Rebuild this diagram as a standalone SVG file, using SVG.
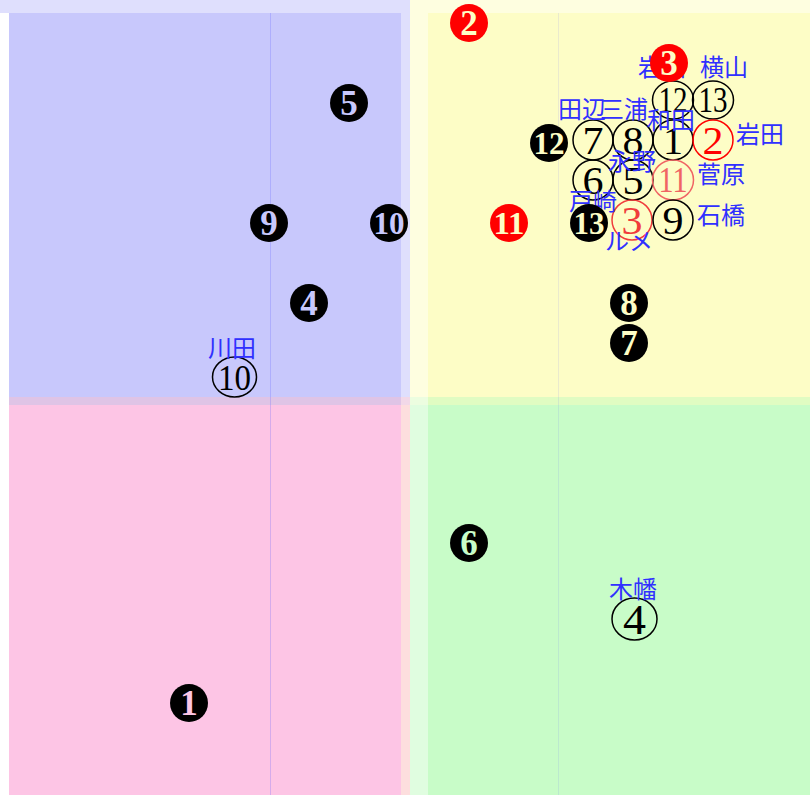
<svg xmlns="http://www.w3.org/2000/svg" width="810" height="795" viewBox="0 0 810 795">
<style>
.dot{stroke:none}
.dd{font-family:"Liberation Serif","DejaVu Serif",serif;font-weight:bold;font-size:35px;text-anchor:middle}
.dd2{font-family:"Liberation Serif","DejaVu Serif",serif;font-weight:bold;font-size:31px;text-anchor:middle}
.oc{fill:none;stroke-width:1.5}
.od{font-family:"Liberation Serif","DejaVu Serif",serif;font-size:40px;text-anchor:middle}
.od2{font-family:"Liberation Serif","DejaVu Serif",serif;font-size:36px;text-anchor:middle}
.lb{font-family:"Noto Sans CJK JP","Noto Sans CJK SC",sans-serif;font-size:24px;fill:#3030ff;text-anchor:middle}
.vl{stroke:#6060ff;stroke-opacity:0.25;stroke-width:1}
</style>
<g id="background">
<rect x="0" y="0" width="810" height="795" fill="#ffffff"/>
<rect x="0" y="0" width="410" height="13" fill="#dfdffd"/>
<rect x="401" y="13" width="9" height="384" fill="#dfdffd"/>
<rect x="9" y="13" width="392" height="384" fill="#c8c8fc"/>
<rect x="410" y="0" width="400" height="397" fill="#fefee0"/>
<rect x="428" y="13" width="382" height="384" fill="#fdfdc6"/>
<rect x="9" y="397" width="392" height="8" fill="#dfc4e6"/>
<rect x="401" y="397" width="9" height="8" fill="#f2d8e8"/>
<rect x="410" y="397" width="18" height="8" fill="#ecfde0"/>
<rect x="428" y="397" width="382" height="8" fill="#e0fcc2"/>
<rect x="9" y="405" width="392" height="390" fill="#fdc5e5"/>
<rect x="401" y="405" width="9" height="390" fill="#fddede"/>
<rect x="410" y="405" width="18" height="390" fill="#e0fde0"/>
<rect x="428" y="405" width="382" height="390" fill="#c8fcc8"/>
<line class="vl" x1="270.5" y1="13" x2="270.5" y2="795"/>
<line class="vl" x1="558.5" y1="13" x2="558.5" y2="795" style="stroke-opacity:0.12"/>
</g>
<g id="connectors"/>
<g id="circled">
<g id="c12"><ellipse class="oc" cx="673" cy="100" rx="20.5" ry="19" stroke="#000"/><text class="od2" x="673" y="112" textLength="29" lengthAdjust="spacingAndGlyphs" fill="#000">12</text></g>
<g id="c13"><ellipse class="oc" cx="713" cy="100" rx="20.5" ry="19" stroke="#000"/><text class="od2" x="713" y="112" textLength="29" lengthAdjust="spacingAndGlyphs" fill="#000">13</text></g>
<g id="c7"><circle class="oc" cx="593" cy="140" r="20" stroke="#000"/><text class="od" x="593" y="153.5" textLength="21" lengthAdjust="spacingAndGlyphs" fill="#000">7</text></g>
<g id="c8"><circle class="oc" cx="633" cy="140" r="20" stroke="#000"/><text class="od" x="633" y="153.5" textLength="21" lengthAdjust="spacingAndGlyphs" fill="#000">8</text></g>
<g id="c1"><circle class="oc" cx="673" cy="140" r="20" stroke="#000"/><text class="od" x="673" y="153.5" fill="#000">1</text></g>
<g id="c2"><circle class="oc" cx="713" cy="140" r="20" stroke="#ff0000"/><text class="od" x="713" y="153.5" fill="#ff0000" textLength="21" lengthAdjust="spacingAndGlyphs">2</text></g>
<g id="c6"><circle class="oc" cx="593" cy="180" r="20" stroke="#000"/><text class="od" x="593" y="193.5" textLength="21" lengthAdjust="spacingAndGlyphs" fill="#000">6</text></g>
<g id="c5"><circle class="oc" cx="633" cy="180" r="20" stroke="#000"/><text class="od" x="633" y="193.5" textLength="21" lengthAdjust="spacingAndGlyphs" fill="#000">5</text></g>
<g id="c11"><ellipse class="oc" cx="673" cy="180" rx="20.5" ry="20" stroke="#f06464"/><text class="od2" x="673" y="192" textLength="29" lengthAdjust="spacingAndGlyphs" fill="#f06464">11</text></g>
<g id="c3"><circle class="oc" cx="632" cy="220" r="20" stroke="#f03c3c"/><text class="od" x="632" y="233.5" fill="#f03c3c" textLength="21" lengthAdjust="spacingAndGlyphs">3</text></g>
<g id="c9"><circle class="oc" cx="673" cy="220" r="20" stroke="#000"/><text class="od" x="673" y="233.5" textLength="21" lengthAdjust="spacingAndGlyphs" fill="#000">9</text></g>
<g id="c10"><ellipse class="oc" cx="234.5" cy="377" rx="22" ry="20" stroke="#000"/><text class="od2" x="234.5" y="389.5" textLength="33" lengthAdjust="spacingAndGlyphs" fill="#000">10</text></g>
<g id="c4"><ellipse class="oc" cx="634.5" cy="619" rx="22.5" ry="21" stroke="#000"/><text class="od" x="634.5" y="633.5" style="font-size:42px" textLength="23" lengthAdjust="spacingAndGlyphs" fill="#000">4</text></g>
</g>
<g id="labels">
<text class="lb" x="662" y="76">岩田</text>
<text class="lb" x="724" y="76">横山</text>
<text class="lb" x="582" y="118">田辺</text>
<text class="lb" x="624" y="118">三浦</text>
<text class="lb" x="671" y="129">和田</text>
<text class="lb" x="760" y="143">岩田</text>
<text class="lb" x="632" y="170">永野</text>
<text class="lb" x="721" y="183">菅原</text>
<text class="lb" x="593" y="210">戸崎</text>
<text class="lb" x="721" y="224">石橋</text>
<text class="lb" x="629" y="250">ルメ</text>
<text class="lb" x="232" y="357">川田</text>
<text class="lb" x="633" y="598">木幡</text>
</g>
<g id="dots">
<g id="d1"><circle class="dot" cx="189" cy="703" r="19" fill="#000"/><text class="dd" x="189" y="715" fill="#fdc5e5">1</text></g>
<g id="d2"><circle class="dot" cx="469" cy="23" r="19" fill="#f00"/><text class="dd" x="469" y="35" fill="#fdfdc6">2</text></g>
<g id="d3"><circle class="dot" cx="669" cy="63" r="19" fill="#f00"/><text class="dd" x="669" y="75" fill="#fdfdc6">3</text></g>
<g id="d4"><circle class="dot" cx="309" cy="303" r="19" fill="#000"/><text class="dd" x="309" y="315" fill="#c8c8fc">4</text></g>
<g id="d5"><circle class="dot" cx="349" cy="103" r="19" fill="#000"/><text class="dd" x="349" y="115" fill="#c8c8fc">5</text></g>
<g id="d6"><circle class="dot" cx="469" cy="543" r="19" fill="#000"/><text class="dd" x="469" y="555" fill="#c8fcc8">6</text></g>
<g id="d7"><circle class="dot" cx="629" cy="343" r="19" fill="#000"/><text class="dd" x="629" y="355" fill="#fdfdc6">7</text></g>
<g id="d8"><circle class="dot" cx="629" cy="303" r="19" fill="#000"/><text class="dd" x="629" y="315" fill="#fdfdc6">8</text></g>
<g id="d9"><circle class="dot" cx="269" cy="223" r="19" fill="#000"/><text class="dd" x="269" y="235" fill="#c8c8fc">9</text></g>
<g id="d10"><circle class="dot" cx="389" cy="223" r="19" fill="#000"/><text class="dd2" x="389" y="234" textLength="31" lengthAdjust="spacingAndGlyphs" fill="#c8c8fc">10</text></g>
<g id="d11"><circle class="dot" cx="509" cy="223" r="19" fill="#f00"/><text class="dd2" x="509" y="234" textLength="31" lengthAdjust="spacingAndGlyphs" fill="#fdfdc6">11</text></g>
<g id="d12"><circle class="dot" cx="549" cy="143" r="19" fill="#000"/><text class="dd2" x="549" y="154" textLength="31" lengthAdjust="spacingAndGlyphs" fill="#fdfdc6">12</text></g>
<g id="d13"><circle class="dot" cx="589" cy="223" r="19" fill="#000"/><text class="dd2" x="589" y="234" textLength="31" lengthAdjust="spacingAndGlyphs" fill="#fdfdc6">13</text></g>
</g>
</svg>
